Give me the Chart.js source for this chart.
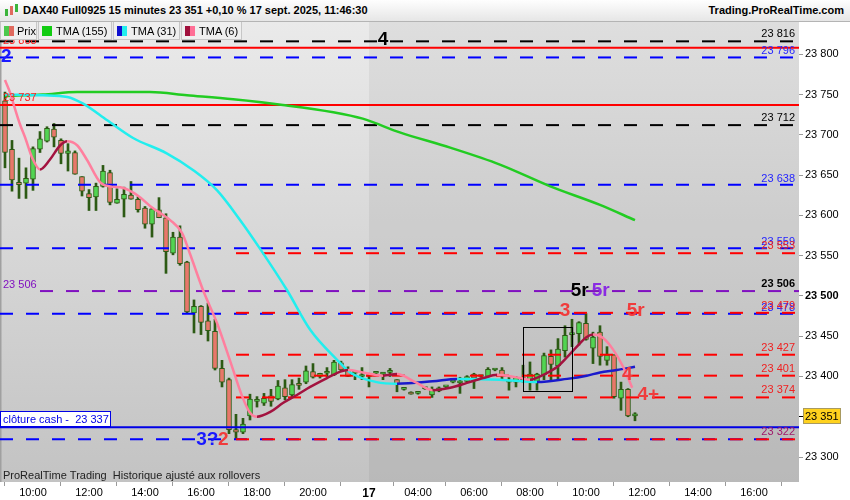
<!DOCTYPE html>
<html>
<head>
<meta charset="utf-8">
<script src="https://cdn.jsdelivr.net/npm/chart.js@4.4.1/dist/chart.umd.min.js"></script>
<style>
  body { margin: 0; background: #fff; font-family: "Liberation Sans", Arial, sans-serif; }
  #wrap { position: relative; width: 850px; height: 500px; overflow: hidden; }
  #c { position: absolute; left: 0; top: 0; }
  #head { position: absolute; left: 0; top: 0; width: 850px; height: 21px; background: linear-gradient(#fefefe, #e6e6e6); border-bottom: 1px solid #b4b4b4; font-size: 11px; font-weight: bold; color: #000; }
  #title { position: absolute; left: 23px; top: 4px; white-space: nowrap; }
  #site { position: absolute; right: 6px; top: 4px; }
  #ico { position: absolute; left: 4px; top: 3px; width: 15px; height: 15px; }
  #ico span { position: absolute; width: 3px; background: #3cb43c; }
  #legend { position: absolute; left: 0; top: 22px; height: 18px; display: flex; }
  .lg { box-sizing: border-box; height: 18px; border: 1px solid #c6c6c6; border-top: none; background: #efefef; font-size: 11px; display: flex; align-items: center; padding-left: 3px; margin-right: 1px; white-space: nowrap; }
  .sw { display: inline-block; width: 5px; height: 10px; }
</style>
</head>
<body>
<div id="wrap">
  <canvas id="c" width="850" height="500"></canvas>
  <div id="head">
    <div id="ico"><span style="left:1px;top:6px;height:7px"></span><span style="left:6px;top:3px;height:9px;background:#e06a5e"></span><span style="left:11px;top:1px;height:8px"></span></div>
    <div id="title">DAX40 Full0925 15 minutes 23 351 +0,10 % 17 sept. 2025, 11:46:30</div>
    <div id="site">Trading.ProRealTime.com</div>
  </div>
  <div id="legend">
    <div class="lg" style="width:37px"><span class="sw" style="background:#4cc94c"></span><span class="sw" style="background:#e06a5e;margin-right:3px"></span>Prix</div>
    <div class="lg" style="width:74px"><span class="sw" style="background:#11cc11;width:10px;margin-right:4px"></span>TMA (155)</div>
    <div class="lg" style="width:67px"><span class="sw" style="background:#1010d0"></span><span class="sw" style="background:#22eeee;margin-right:4px"></span>TMA (31)</div>
    <div class="lg" style="width:61px"><span class="sw" style="background:#a0103c"></span><span class="sw" style="background:#ff6f96;margin-right:4px"></span>TMA (6)</div>
  </div>
</div>
<script>
// DONNEES - bougies 15 min, index 0 = 16 sept 09:00
const opens = [23742,23682,23641,23640,23645,23682,23692,23707,23693,23677,
  23678,23648,23627,23623,23636,23653,23615,23620,23625,23620,
  23609,23589,23607,23597,23553,23573,23542,23479,23487,23469,
  23456,23410,23396,23334,23331,23351,23369,23367,23376,23372,
  23386,23377,23391,23393,23406,23400,23404,23402,23417,23408,
  23404,23400,23400,23404,23403,23405,23396,23384,23380,23379,
  23385,23377,23382,23387,23393,23392,23394,23403,23400,23400,
  23408,23408,23393,23393,23396,23394,23394,23402,23425,23413,
  23432,23452,23453,23466,23435,23455,23420,23427,23373,23384,
  23351];
const highs = [23753,23693,23671,23659,23685,23704,23710,23714,23695,23689,
  23680,23648,23632,23640,23662,23656,23633,23635,23642,23623,
  23611,23609,23622,23602,23579,23587,23543,23495,23488,23491,
  23471,23420,23398,23353,23348,23378,23375,23379,23384,23395,
  23396,23396,23398,23413,23416,23404,23411,23420,23419,23412,
  23406,23411,23404,23405,23405,23410,23396,23385,23381,23381,
  23386,23387,23387,23388,23394,23399,23401,23404,23401,23411,
  23409,23411,23400,23400,23414,23418,23404,23429,23433,23447,
  23463,23471,23468,23478,23455,23463,23437,23427,23393,23385,
  23355];
const lows = [23659,23630,23621,23621,23631,23678,23691,23685,23664,23655,
  23651,23624,23606,23606,23635,23613,23615,23598,23620,23604,
  23584,23573,23597,23528,23551,23538,23479,23454,23452,23444,
  23408,23387,23329,23323,23329,23346,23362,23364,23363,23371,
  23371,23375,23384,23391,23398,23398,23400,23401,23407,23400,
  23396,23396,23387,23403,23396,23400,23381,23383,23378,23378,
  23384,23374,23381,23386,23392,23379,23393,23385,23399,23399,
  23407,23396,23383,23387,23393,23383,23383,23396,23396,23396,
  23424,23437,23439,23445,23416,23414,23414,23373,23358,23350,
  23345];
const closes = [23678,23644,23638,23646,23683,23695,23708,23697,23677,23680,
  23651,23630,23622,23636,23655,23616,23620,23626,23620,23607,
  23589,23608,23597,23555,23573,23540,23480,23487,23467,23457,
  23410,23393,23334,23331,23341,23372,23369,23373,23369,23388,
  23375,23390,23389,23407,23399,23404,23404,23418,23408,23400,
  23404,23400,23400,23404,23403,23405,23391,23384,23378,23379,
  23385,23384,23386,23387,23393,23392,23400,23398,23400,23409,
  23408,23402,23393,23399,23396,23403,23403,23426,23415,23434,
  23451,23452,23467,23446,23449,23425,23427,23375,23384,23351,
  23351];

// moyennes (index de bougie, valeur)
const tma155Bars = [0, 5.4, 10.3, 20.7, 26, 32.6, 39.7, 46.9, 51.1, 56.4, 63.6, 70.7, 77.9, 85, 90];
const tma155Vals = [23748, 23750, 23753, 23753, 23749, 23744, 23737, 23728, 23720, 23703, 23684, 23663, 23636, 23613, 23594];

const tma31Bars = [0, 5.4, 8.9, 11.1, 14.6, 18.3, 23.1, 26.9, 30.3, 33.6, 36.4, 40.3, 43.6, 47.4, 49.3, 53.1, 56, 61.1, 64.6, 70.7, 76, 80.3, 83.1, 85, 87.4, 90];
const tma31Vals = [23750, 23749, 23747, 23739, 23718, 23696, 23677, 23656, 23631, 23594, 23559, 23507, 23458, 23421, 23405, 23393, 23391, 23394, 23397, 23396, 23393, 23397, 23401, 23405, 23408, 23412];

const tma6Bars = [0, 0.7, 1.4, 2.1, 2.9, 3.9, 5, 6.4, 7.9, 8.9, 10.3, 11.7, 13.6, 15, 16.9, 18.9, 21.1, 23.6, 25.3, 26.4, 28.3, 30.3, 32.1, 33.9, 35, 36, 37.9, 39.7, 41.7, 43.6, 46, 47.9, 49, 51.1, 54, 56, 58.6, 61.1, 63.6, 66, 68.3, 70.3, 71.7, 73.6, 75, 76.9, 78.9, 80.3, 81.9, 83.1, 84, 85.4, 86.9, 88.3, 89.6];
const tma6Vals = [23768, 23753, 23733, 23714, 23696, 23671, 23657, 23669, 23687, 23692, 23687, 23669, 23641, 23636, 23634, 23625, 23609, 23594, 23578, 23553, 23507, 23466, 23421, 23375, 23355, 23350, 23356, 23367, 23377, 23387, 23398, 23406, 23408, 23405, 23401, 23403, 23393, 23383, 23386, 23392, 23398, 23402, 23401, 23398, 23396, 23402, 23412, 23424, 23439, 23449, 23452, 23448, 23433, 23412, 23386];

// niveaux horizontaux
const blackDashLevels = [23816, 23712];
const blueDashLevels = [23796, 23638, 23559, 23478, 23322];
const redDashLevels = [23553, 23479, 23427, 23401, 23374, 23322];
const purpleDashLevels = [23506];
const redSolidLevels = [23808, 23737];
const cashClose = 23337;
const lastPrice = 23351;
const redDashStart = 33;
const purpleStart = 5;
const dayStartBar = 52;

// axe des temps
const xTickBars = [4, 12, 20, 28, 36, 44, 52, 59, 67, 75, 83, 91, 99, 107];
const xTickLabels = ["10:00", "12:00", "14:00", "16:00", "18:00", "20:00", "17", "04:00", "06:00", "08:00", "10:00", "12:00", "14:00", "16:00"];

// rectangle dessine
const boxBars = [74, 81];
const boxPrices = [23382, 23462];

const FONT = '"Liberation Sans", Arial, sans-serif';
const X_MIN = -0.714, X_MAX = 113.43;

const fmt = v => String(Math.round(v)).replace(/\B(?=(\d{3})+(?!\d))/g, " ");

const marks = [
  { t: "4", bar: 54, price: 23818, color: "#000000" },
  { t: "2", bar: 0.2, price: 23797, color: "#1a1aff" },
  { t: "3?", bar: 28.9, price: 23322, color: "#1a1aff" },
  { t: "2", bar: 31.2, price: 23322, color: "#f03c3c" },
  { t: "5r", bar: 82.1, price: 23507, color: "#000000" },
  { t: "5r", bar: 85.1, price: 23507, color: "#8a2be2" },
  { t: "3", bar: 80, price: 23481, color: "#f03c3c" },
  { t: "5r", bar: 90.1, price: 23481, color: "#f03c3c" },
  { t: "4", bar: 88.9, price: 23402, color: "#f03c3c" },
  { t: "4+", bar: 91.9, price: 23377, color: "#f03c3c" }
];

// --- jeux de donnees ---
const wickData = opens.map((o, i) => ({ x: i, y: [lows[i], highs[i]] }));
const bodyData = opens.map((o, i) => ({ x: i, y: [o, closes[i]] }));
const bodyColors = opens.map((o, i) => closes[i] >= o ? "#52d452" : "#e8776a");

function pts(bars, vals) {
  return bars.map((b, i) => ({ x: b, y: vals[i] }));
}

function tmaSet(bars, vals, up, down, width, ord) {
  return {
    type: "line",
    data: pts(bars, vals),
    borderWidth: width,
    pointRadius: 0,
    cubicInterpolationMode: "monotone",
    borderColor: down,
    segment: { borderColor: c => c.p1.parsed.y > c.p0.parsed.y ? up : down },
    order: ord
  };
}

function levelSets(values, start, color, dashed, ord) {
  return values.map(v => ({
    type: "line",
    data: [{ x: start, y: v }, { x: X_MAX, y: v }],
    borderColor: color,
    borderWidth: 2,
    borderDash: dashed ? [13, 13] : [],
    pointRadius: 0,
    order: ord
  }));
}

const datasets = [
  tmaSet(tma6Bars, tma6Vals, "#a3123f", "#ff7f9e", 2.5, 1),
  tmaSet(tma31Bars, tma31Vals, "#1a1acc", "#22eeee", 2.5, 2),
  tmaSet(tma155Bars, tma155Vals, "#22cc22", "#22cc22", 2.5, 3),
  ...levelSets(redSolidLevels, X_MIN, "#ff0000", false, 4),
  ...levelSets([cashClose], X_MIN, "#0000e6", false, 4),
  ...levelSets(blackDashLevels, X_MIN, "#000000", true, 5),
  ...levelSets(purpleDashLevels, purpleStart, "#8010c0", true, 5),
  ...levelSets(redDashLevels, redDashStart, "#ff0000", true, 5),
  ...levelSets(blueDashLevels, X_MIN, "#0000ff", true, 6),
  {
    type: "bar",
    data: bodyData,
    backgroundColor: bodyColors,
    borderColor: "#2c5a14",
    borderWidth: 1,
    borderSkipped: false,
    barThickness: 5,
    minBarLength: 2,
    grouped: false,
    order: 7
  },
  {
    type: "bar",
    data: wickData,
    backgroundColor: "#2c5a14",
    borderWidth: 0,
    barThickness: 2,
    minBarLength: 1,
    grouped: false,
    order: 8
  }
];

// fond du graphique
const plotBg = {
  id: "plotBg",
  beforeDraw(chart) {
    const { ctx, chartArea: a, scales: { x } } = chart;
    ctx.save();
    ctx.fillStyle = "#ffffff";
    ctx.fillRect(0, 0, chart.width, chart.height);
    const g = ctx.createLinearGradient(0, a.top, 0, a.bottom);
    g.addColorStop(0, "#eaeaea");
    g.addColorStop(1, "#c3c3c3");
    ctx.fillStyle = g;
    ctx.fillRect(a.left, a.top, a.right - a.left, a.bottom - a.top);
    const d = x.getPixelForValue(dayStartBar);
    ctx.fillStyle = "rgba(0,0,0,0.05)";
    ctx.fillRect(d, a.top, a.right - d, a.bottom - a.top);
    ctx.fillStyle = "#a0a0a0";
    ctx.fillRect(a.left, a.top, 1.5, a.bottom - a.top);
    ctx.restore();
  }
};

// textes et objets dessines
const drawings = {
  id: "drawings",
  afterDatasetsDraw(chart) {
    const { ctx, chartArea: a, scales: { x, y } } = chart;
    ctx.save();

    // rectangle
    ctx.strokeStyle = "#000";
    ctx.lineWidth = 1;
    const bx0 = x.getPixelForValue(boxBars[0]), bx1 = x.getPixelForValue(boxBars[1]);
    const by0 = y.getPixelForValue(boxPrices[1]), by1 = y.getPixelForValue(boxPrices[0]);
    ctx.strokeRect(Math.round(bx0) + 0.5, Math.round(by0) + 0.5, Math.round(bx1 - bx0), Math.round(by1 - by0));

    // etiquettes a droite des niveaux
    ctx.font = "11px " + FONT;
    ctx.textAlign = "right";
    ctx.textBaseline = "alphabetic";
    const rx = a.right - 4;
    const both = redDashLevels.filter(v => blueDashLevels.includes(v));
    blackDashLevels.forEach(v => { ctx.fillStyle = "#000"; ctx.fillText(fmt(v), rx, y.getPixelForValue(v) - 4); });
    blueDashLevels.filter(v => !both.includes(v)).forEach(v => { ctx.fillStyle = "#2424ff"; ctx.fillText(fmt(v), rx, y.getPixelForValue(v) - 3); });
    redDashLevels.filter(v => !both.includes(v)).forEach(v => { ctx.fillStyle = "#f02020"; ctx.fillText(fmt(v), rx, y.getPixelForValue(v) - 4); });
    both.forEach(v => { ctx.fillStyle = "#a0186a"; ctx.fillText(fmt(v), rx, y.getPixelForValue(v) - 4); });
    ctx.font = "bold 11px " + FONT;
    purpleDashLevels.forEach(v => { ctx.fillStyle = "#000"; ctx.fillText(fmt(v), rx, y.getPixelForValue(v) - 4); });

    // etiquettes a gauche
    ctx.textAlign = "left";
    ctx.font = "11px " + FONT;
    redSolidLevels.forEach(v => { ctx.fillStyle = "#ff2020"; ctx.fillText(fmt(v), a.left + 3, y.getPixelForValue(v) - 4); });
    purpleDashLevels.forEach(v => { ctx.fillStyle = "#8010c0"; ctx.fillText(fmt(v), a.left + 3, y.getPixelForValue(v) - 3); });

    // cloture cash
    const cy = Math.round(y.getPixelForValue(cashClose));
    ctx.fillStyle = "#ffffff";
    ctx.fillRect(a.left, cy - 16, 111, 16);
    ctx.strokeStyle = "#0000e6";
    ctx.strokeRect(a.left + 0.5, cy - 15.5, 110, 15);
    ctx.fillStyle = "#0000e6";
    ctx.fillText("clôture cash -  " + fmt(cashClose), a.left + 3, cy - 4);

    // pied
    ctx.fillStyle = "#222";
    ctx.fillText("ProRealTime Trading  Historique ajusté aux rollovers", a.left + 3, a.bottom - 3);

    // reperes (vagues)
    ctx.font = "bold 19px " + FONT;
    ctx.textAlign = "center";
    ctx.textBaseline = "middle";
    marks.forEach(m => {
      ctx.fillStyle = m.color;
      ctx.fillText(m.t, x.getPixelForValue(m.bar), y.getPixelForValue(m.price));
    });
    ctx.restore();
  },
  afterDraw(chart) {
    const { ctx, chartArea: a, scales: { y } } = chart;
    const py = Math.round(y.getPixelForValue(lastPrice));
    ctx.save();
    ctx.fillStyle = "#000";
    ctx.fillRect(a.right, py, 4, 1);
    ctx.fillStyle = "#ffd21e";
    ctx.fillRect(a.right + 4, py - 8, 38, 16);
    ctx.strokeStyle = "#a89a60";
    ctx.lineWidth = 1;
    ctx.strokeRect(a.right + 4.5, py - 7.5, 37, 15);
    ctx.fillStyle = "#000";
    ctx.font = "11px " + FONT;
    ctx.textAlign = "left";
    ctx.textBaseline = "middle";
    ctx.fillText(fmt(lastPrice), a.right + 6, py + 1);
    ctx.restore();
  }
};

Chart.defaults.font.family = FONT;

new Chart(document.getElementById("c"), {
  type: "bar",
  data: { datasets },
  plugins: [plotBg, drawings],
  options: {
    responsive: false,
    animation: false,
    devicePixelRatio: 1,
    events: [],
    layout: { padding: { top: 22, left: 0, right: 0, bottom: 0 } },
    plugins: { legend: { display: false }, tooltip: { enabled: false } },
    scales: {
      x: {
        type: "linear",
        min: X_MIN,
        max: X_MAX,
        offset: false,
        border: { display: false },
        grid: { drawOnChartArea: false, drawTicks: true, tickLength: 4, color: "#9a9a9a" },
        afterBuildTicks: s => { s.ticks = xTickBars.map(v => ({ value: v })); },
        afterFit: s => { s.height = 18; },
        ticks: {
          autoSkip: false,
          maxRotation: 0,
          padding: 0,
          color: "#000",
          font: c => (c.tick && c.tick.value === dayStartBar) ? { size: 12, weight: "bold" } : { size: 11 },
          callback: (v, i) => xTickLabels[i]
        }
      },
      y: {
        type: "linear",
        position: "right",
        min: 23269,
        max: 23840,
        beginAtZero: false,
        border: { display: false },
        grid: { drawOnChartArea: false, drawTicks: true, tickLength: 4, color: "#9a9a9a" },
        afterFit: s => { s.width = 51; },
        ticks: {
          stepSize: 50,
          includeBounds: false,
          padding: 2,
          color: "#000",
          font: c => (c.tick && c.tick.value === 23500) ? { size: 11, weight: "bold" } : { size: 11 },
          callback: v => fmt(v)
        }
      }
    }
  }
});
</script>
</body>
</html>
